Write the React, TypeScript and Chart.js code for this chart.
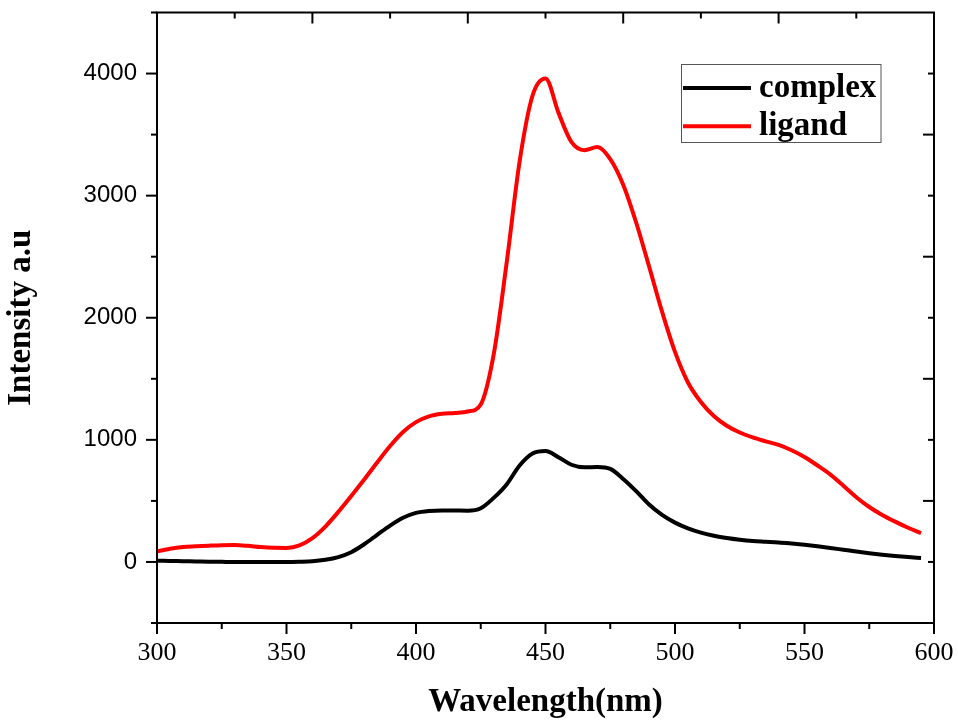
import { useEffect, useRef } from "react";
import { Chart, registerables } from "chart.js";

Chart.register(...registerables);

// Wavelength samples (nm)
const wavelengths = [
  300, 305, 310, 315, 320, 325, 330, 335, 340, 345,
  350, 355, 360, 365, 370, 375, 380, 385, 390, 395,
  400, 405, 410, 415, 420, 425, 430, 435, 440, 445,
  450, 455, 460, 465, 470, 475, 480, 485, 490, 495,
  500, 505, 510, 515, 520, 525, 530, 535, 540, 545,
  550, 555, 560, 565, 570, 575, 580, 585, 590, 595,
];

const complexValues = [
  10, 8, 6, 4, 2, 1, 0, 0, 0, 0,
  0, 2, 6, 18, 40, 80, 145, 222, 298, 362,
  402, 418, 422, 421, 420, 440, 525, 635, 790, 888,
  908, 858, 796, 775, 778, 762, 680, 580, 470, 385,
  322, 275, 240, 215, 196, 182, 172, 166, 160, 151,
  141, 129, 115, 100, 85, 71, 59, 49, 40, 33,
];

const ligandValues = [
  87, 108, 122, 128, 133, 137, 138, 132, 122, 116,
  115, 135, 195, 290, 410, 540, 675, 815, 950, 1065,
  1145, 1192, 1213, 1220, 1232, 1290, 1700, 2450, 3280, 3820,
  3960, 3680, 3440, 3372, 3398, 3300, 3090, 2780, 2420, 2050,
  1720, 1470, 1310, 1195, 1115, 1060, 1020, 988, 958, 915,
  860, 790, 715, 625, 530, 450, 385, 330, 280, 235,
];

const seriesLabels = ["complex", "ligand"];

const xTickValues = [300, 350, 400, 450, 500, 550, 600];
const xMinorTicks = [325, 375, 425, 475, 525, 575];
const yTickValues = [0, 1000, 2000, 3000, 4000];
const yMinorTicks = [-500, 500, 1500, 2500, 3500, 4500];
const topMajorTicks = [360, 420, 480, 540];
const topMinorTicks = [330, 390, 450, 510, 570];
const rightMajorTicks = [500, 1500, 2500, 3500];
const rightMinorTicks = [0, 1000, 2000, 3000, 4000];

const framePlugin = {
  id: "frameTicks",
  afterDatasetsDraw(chart: any) {
    const { ctx, chartArea, scales } = chart;
    const { left, right, top, bottom } = chartArea;
    const x = scales.x;
    const y = scales.y;
    ctx.save();
    ctx.strokeStyle = "#000";
    ctx.lineWidth = 2;
    ctx.lineCap = "butt";
    ctx.strokeRect(left, top, right - left, bottom - top);
    const seg = (x1: number, y1: number, x2: number, y2: number) => {
      ctx.beginPath();
      ctx.moveTo(x1, y1);
      ctx.lineTo(x2, y2);
      ctx.stroke();
    };
    xTickValues.forEach((v) => {
      const p = x.getPixelForValue(v);
      seg(p, bottom, p, bottom + 11);
    });
    xMinorTicks.forEach((v) => {
      const p = x.getPixelForValue(v);
      seg(p, bottom, p, bottom + 6);
    });
    yTickValues.forEach((v) => {
      const p = y.getPixelForValue(v);
      seg(left, p, left - 11, p);
    });
    yMinorTicks.forEach((v) => {
      const p = y.getPixelForValue(v);
      seg(left, p, left - 6, p);
    });
    topMajorTicks.forEach((v) => {
      const p = x.getPixelForValue(v);
      seg(p, top, p, top + 11);
    });
    topMinorTicks.forEach((v) => {
      const p = x.getPixelForValue(v);
      seg(p, top, p, top + 6);
    });
    rightMajorTicks.forEach((v) => {
      const p = y.getPixelForValue(v);
      seg(right, p, right - 11, p);
    });
    rightMinorTicks.forEach((v) => {
      const p = y.getPixelForValue(v);
      seg(right, p, right - 6, p);
    });
    ctx.restore();
  },
};

const legendPlugin = {
  id: "insideLegend",
  afterDraw(chart: any) {
    const { ctx } = chart;
    ctx.save();
    ctx.lineWidth = 1;
    ctx.strokeStyle = "#555";
    ctx.strokeRect(681.5, 64.5, 199.5, 78);
    chart.data.datasets.forEach((ds: any, i: number) => {
      const yy = 88 + i * 38.3;
      ctx.strokeStyle = ds.borderColor;
      ctx.lineWidth = 4;
      ctx.beginPath();
      ctx.moveTo(683, yy);
      ctx.lineTo(751, yy);
      ctx.stroke();
      ctx.fillStyle = "#000";
      ctx.font = 'bold 33px "Liberation Serif"';
      ctx.textBaseline = "middle";
      ctx.textAlign = "left";
      ctx.fillText(ds.label, 759, yy);
    });
    ctx.restore();
  },
};

export default function App() {
  const canvasRef = useRef<HTMLCanvasElement | null>(null);

  useEffect(() => {
    if (!canvasRef.current) return;
    const toPoints = (vals: number[]) =>
      wavelengths.map((w, i) => ({ x: w, y: vals[i] }));
    const chart = new Chart(canvasRef.current, {
      type: "line",
      data: {
        datasets: [
          {
            label: seriesLabels[0],
            data: toPoints(complexValues),
            borderColor: "#000000",
            borderWidth: 4,
            pointRadius: 0,
            cubicInterpolationMode: "monotone",
            fill: false,
          },
          {
            label: seriesLabels[1],
            data: toPoints(ligandValues),
            borderColor: "#ff0000",
            borderWidth: 4,
            pointRadius: 0,
            cubicInterpolationMode: "monotone",
            fill: false,
          },
        ],
      },
      options: {
        responsive: false,
        animation: false,
        layout: { padding: { top: 12.5, right: 24, left: 0, bottom: 0 } },
        plugins: {
          legend: { display: false },
          tooltip: { enabled: false },
        },
        scales: {
          x: {
            type: "linear",
            min: 300,
            max: 600,
            afterBuildTicks: (s: any) => {
              s.ticks = xTickValues.map((value) => ({ value }));
            },
            afterFit: (s: any) => {
              s.height = 99;
              s.paddingLeft = 0;
              s.paddingRight = 0;
            },
            grid: { display: false, drawTicks: false, tickLength: 0 },
            border: { display: false },
            ticks: {
              color: "#000",
              font: { family: "Liberation Serif", size: 26 },
              padding: 15,
              maxRotation: 0,
              autoSkip: false,
              callback: (v: any) => String(v),
            },
            title: {
              display: true,
              text: "Wavelength(nm)",
              color: "#000",
              font: { family: "Liberation Serif", size: 33, weight: "bold", lineHeight: 1 },
              padding: { top: 0, bottom: 3 },
            },
          },
          y: {
            type: "linear",
            min: -500,
            max: 4500,
            afterBuildTicks: (s: any) => {
              s.ticks = yTickValues.map((value) => ({ value }));
            },
            afterFit: (s: any) => {
              s.width = 157;
              s.paddingTop = 0;
              s.paddingBottom = 0;
            },
            grid: { display: false, drawTicks: false, tickLength: 0 },
            border: { display: false },
            ticks: {
              color: "#000",
              font: { family: "Liberation Sans", size: 24 },
              padding: 20,
              autoSkip: false,
              callback: (v: any) => String(v),
            },
            title: {
              display: true,
              text: "Intensity a.u",
              color: "#000",
              font: { family: "Liberation Serif", size: 33, weight: "bold", lineHeight: 1 },
              padding: { top: 5, bottom: 0 },
            },
          },
        },
      },
      plugins: [framePlugin, legendPlugin],
    });
    return () => chart.destroy();
  }, []);

  return (
    <div style={{ position: "fixed", left: 0, top: 0, width: 958, height: 722, background: "#fff" }}>
      <canvas ref={canvasRef} width={958} height={722} style={{ display: "block" }} />
    </div>
  );
}
